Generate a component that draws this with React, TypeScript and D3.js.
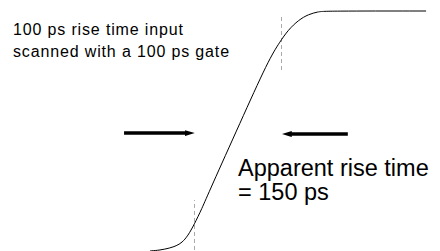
import React, { useEffect, useRef } from 'react';
import * as d3 from 'd3';

// step response, time in ps, amplitude normalised 0..1
const timePs = [-5, 12, 29, 40, 50, 60, 71, 84, 98, 150, 199, 219, 233, 251, 268, 285, 297, 471];
const amplitude = [-0.008, -0.005, 0.004, 0.013, 0.027, 0.055, 0.103, 0.168, 0.248, 0.529, 0.794, 0.871, 0.92, 0.962, 0.986, 0.997, 1, 1];

// 10% / 90% markers
const markerTimes = [71, 221];
const markerSpans = [[-0.004, 0.206], [0.752, 0.987]];

// arrows pointing at the two markers: [from, to] in ps, and level
const arrowSpans = [[-50, 72], [336, 222]];
const arrowLevels = [0.487, 0.483];

const noteLines = ['100 ps rise time input', 'scanned with a 100 ps gate'];
const resultLines = ['Apparent rise time', '= 150 ps'];

const W = 440;
const H = 251;

const App = () => {
  const ref = useRef<SVGSVGElement>(null);

  useEffect(() => {
    const svg = d3.select(ref.current);
    svg.selectAll('*').remove();

    const x = d3.scaleLinear().domain([-264, 495]).range([0, W]);
    const y = d3.scaleLinear().domain([0, 1]).range([249, 11]);

    svg.append('rect').attr('width', W).attr('height', H).attr('fill', '#fff');

    svg.append('defs').append('marker')
      .attr('id', 'head')
      .attr('viewBox', '0 0 10 6')
      .attr('refX', 10).attr('refY', 3)
      .attr('markerWidth', 10).attr('markerHeight', 6)
      .attr('markerUnits', 'userSpaceOnUse')
      .attr('orient', 'auto')
      .append('path').attr('d', 'M0,0L10,3L0,6Z').attr('fill', '#000');

    markerTimes.forEach((t, i) => {
      svg.append('line')
        .attr('x1', Math.round(x(t)) + 0.5).attr('x2', Math.round(x(t)) + 0.5)
        .attr('y1', y(markerSpans[i][0])).attr('y2', y(markerSpans[i][1]))
        .attr('stroke', '#aaa').attr('stroke-width', 1)
        .attr('stroke-dasharray', '4,3');
    });

    const line = d3.line<number>()
      .x((d, i) => x(timePs[i]))
      .y(d => y(d))
      .curve(d3.curveBasis);

    svg.append('path')
      .datum(amplitude)
      .attr('d', line)
      .attr('fill', 'none')
      .attr('stroke', '#000')
      .attr('stroke-width', 1);

    arrowSpans.forEach((s, i) => {
      svg.append('line')
        .attr('x1', x(s[0])).attr('x2', x(s[1]) + (s[1] > s[0] ? -8 : 8))
        .attr('y1', y(arrowLevels[i])).attr('y2', y(arrowLevels[i]))
        .attr('stroke', '#000').attr('stroke-width', 3.5);
      svg.append('line')
        .attr('x1', x(s[0])).attr('x2', x(s[1]))
        .attr('y1', y(arrowLevels[i])).attr('y2', y(arrowLevels[i]))
        .attr('stroke', 'none')
        .attr('marker-end', 'url(#head)');
    });

    svg.append('g')
      .selectAll('text')
      .data(noteLines)
      .join('text')
      .attr('x', 13)
      .attr('y', (d, i) => 34.5 + i * 22)
      .attr('font-family', 'Liberation Sans, Arial, sans-serif')
      .attr('font-size', 16)
      .attr('letter-spacing', 0.85)
      .attr('fill', '#000')
      .text(d => d);

    svg.append('g')
      .selectAll('text')
      .data(resultLines)
      .join('text')
      .attr('x', 238)
      .attr('y', (d, i) => 176 + i * 24)
      .attr('font-family', 'Liberation Sans, Arial, sans-serif')
      .attr('font-size', 23.5)
      .attr('fill', '#000')
      .text(d => d);
  }, []);

  return (
    <svg
      ref={ref}
      width={W}
      height={H}
      style={{ position: 'absolute', left: 0, top: 0 }}
    />
  );
};

export default App;
